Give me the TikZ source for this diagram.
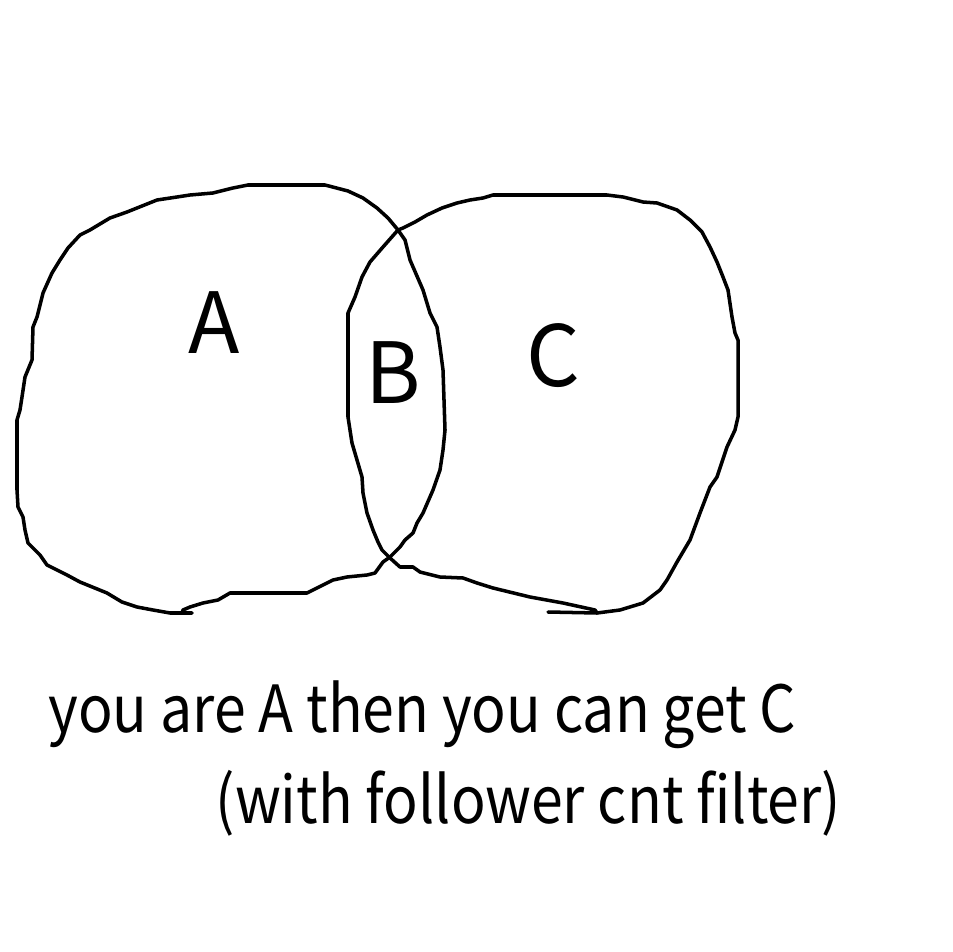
\documentclass[tikz,border=0pt]{standalone}
\usepackage{fontspec}
\setmainfont{Noto Sans CJK JP}
\newfontfamily\capfont[FakeStretch=0.88]{Noto Sans CJK JP}
\usepackage{tikz}
\tikzset{blob/.style={line width=1pt,line join=round,line cap=round},
  letter/.style={font=\fontsize{24}{24}\selectfont,inner sep=0pt},
  caption/.style={font=\capfont\fontsize{18.5}{20}\selectfont,inner sep=0pt,anchor=base west}}

\begin{document}
\begin{tikzpicture}[x=0.01cm,y=-0.01cm]
    \useasboundingbox (0,0) rectangle (952,952);
    % set A
    \draw[blob] (248,185)--(325,185)--(348,191)--(363,198)--(377,208)--(388,218)--(398,230)--(405,240)--(410,260)--(423,290)--(430,313)--(437,327)--(440,347)--(443,370)--(445,430)--(443,450)--(440,470)--(433,490)--(423,513)--(417,523)--(413,533)--(405,540)--(400,547)--(390,557)--(383,562)--(375,573)--(367,575)--(347,577)--(333,580)--(323,585)--(307,593)--(230,593)--(218,600)--(203,603)--(190,607)--(183,610)--(182,613);
    \draw[blob] (192,613)--(170,613)--(153,610)--(137,607)--(122,602)--(107,593)--(80,582)--(67,575)--(47,565)--(40,555)--(28,543)--(25,530)--(23,517)--(18,507)--(17,490)--(17,420)--(20,410)--(22,397)--(25,377)--(32,360)--(33,327)--(37,317)--(43,293)--(52,273)--(60,260)--(68,248)--(80,235)--(90,230)--(110,218)--(127,212)--(157,200)--(177,197)--(190,195)--(213,193)--(233,188)--(248,185);
    % set C
    \draw[blob] (398,230)--(383,247)--(370,262)--(362,277)--(355,297)--(348,313)--(348,417)--(352,443)--(357,460)--(362,477)--(363,493)--(367,513)--(373,530)--(378,542)--(382,550)--(390,558)--(400,567)--(413,567)--(420,572)--(440,577)--(463,578)--(477,583)--(493,588)--(530,597)--(563,603)--(595,610)--(597,613);
    \draw[blob] (548,612)--(597,613)--(620,610)--(643,603)--(660,590)--(667,580)--(677,562)--(690,540)--(700,513)--(710,487)--(717,477)--(727,447)--(735,430)--(738,417)--(738,340)--(735,333)--(732,317)--(728,290)--(723,277)--(717,262)--(710,247)--(702,232)--(690,220)--(677,210)--(657,203)--(643,202)--(623,197)--(607,195)--(493,195)--(483,198)--(470,200)--(457,203)--(442,208)--(427,215)--(415,222)--(403,228)--(398,230);
    % labels
    \node[letter] (labA) at (214,323) {A};
    \node[letter] (labB) at (393,373) {B};
    \node[letter] (labC) at (553,356) {C};
    \node[caption] (line1) at (48,732) {you are A then you can get C};
    \node[caption] (line2) at (215,823) {(with follower cnt filter)};
\end{tikzpicture}
\end{document}
